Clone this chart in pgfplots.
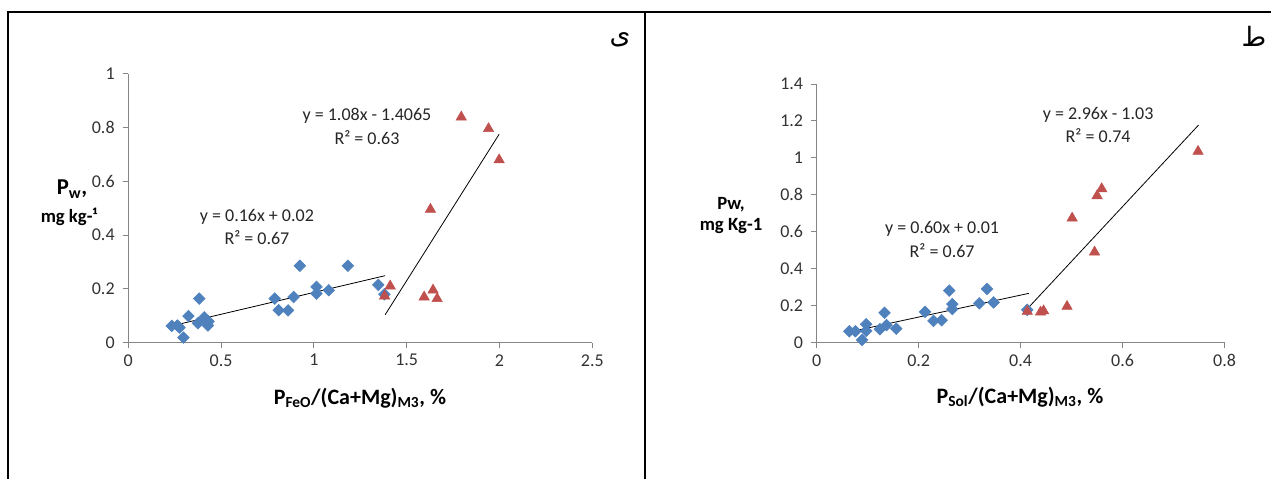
\documentclass[border=0pt]{standalone}
\usepackage{fontspec}
\setmainfont{Carlito}
\newfontfamily\arabicfont[Script=Arabic]{DejaVu Sans}
\TeXXeTstate=1
\usepackage{pgfplots}
\pgfplotsset{compat=1.18}
\definecolor{xlblue}{HTML}{4F81BD}
\definecolor{xlred}{HTML}{C0504D}
\definecolor{axgray}{HTML}{868686}
\definecolor{ticktxt}{HTML}{333333}
\tikzset{eqn/.style={font=\fontsize{13.5}{17.5}\selectfont, align=center, text=black!85}}
\pgfplotsset{xlstyle/.style={
  scale only axis, anchor=south west,
  axis x line=bottom, axis y line=left,
  axis line style={-, draw=axgray, line width=0.75pt},
  tick align=outside, major tick length=4.2pt,
  tick style={draw=axgray, line width=0.75pt},
  tick label style={font=\fontsize{13.5}{15}\selectfont, text=ticktxt},
  yticklabel style={xshift=-2.5pt},
  xticklabel style={yshift=-1pt},
  /pgf/number format/assume math mode=true,
  clip=false,
}}
\pgfplotsset{
  bluepts/.style={only marks, mark=square*, mark size=3.1pt, color=xlblue, every mark/.append style={rotate=45}},
  redpts/.style={only marks, mark=triangle*, mark size=4.5pt, color=xlred, every mark/.append style={yshift=-1.1pt}},
  trend/.style={black, line width=0.6pt, no marks},
}
\begin{document}
\begin{tikzpicture}
\path[use as bounding box] (0,0) rectangle (953.25pt,359.25pt);
% ---------- left panel ----------
\begin{axis}[xlstyle, at={(96.225pt,102.225pt)}, width=348pt, height=201.75pt,
  xmin=0, xmax=2.5, ymin=0, ymax=1,
  xtick={0,0.5,1,1.5,2,2.5}, xticklabels={0,0.5,1,1.5,2,2.5},
  ytick={0,0.2,0.4,0.6,0.8,1}, yticklabels={0,0.2,0.4,0.6,0.8,1}]
\addplot[bluepts] coordinates {
(0.234,0.0625) (0.265,0.064) (0.276,0.056) (0.297,0.019) (0.324,0.099)
(0.382,0.164) (0.375,0.0725) (0.409,0.094) (0.432,0.079) (0.429,0.064)
(0.789,0.164) (0.810,0.121) (0.861,0.120) (0.891,0.170) (0.924,0.286)
(1.014,0.2075) (1.014,0.1825) (1.080,0.195) (1.183,0.286) (1.347,0.215)
(1.380,0.180)};
\addplot[redpts] coordinates {
(1.794,0.844) (1.941,0.801) (1.998,0.685) (1.628,0.501) (1.411,0.216)
(1.381,0.179) (1.594,0.175) (1.642,0.201) (1.664,0.169)};
\addplot[trend] coordinates {(0.237,0.063) (1.383,0.249)};
\addplot[trend] coordinates {(1.384,0.104) (1.998,0.775)};
\node[eqn] at (axis cs:1.286,0.804) {y = 1.08x - 1.4065\\R² = 0.63};
\node[eqn] at (axis cs:0.693,0.430) {y = 0.16x + 0.02\\R² = 0.67};
\end{axis}
% ---------- right panel ----------
\begin{axis}[xlstyle, at={(612.525pt,102.225pt)}, width=305.9pt, height=194pt,
  xmin=0, xmax=0.8, ymin=0, ymax=1.4,
  xtick={0,0.2,0.4,0.6,0.8}, xticklabels={0,0.2,0.4,0.6,0.8},
  ytick={0,0.2,0.4,0.6,0.8,1,1.2,1.4}, yticklabels={0,0.2,0.4,0.6,0.8,1,1.2,1.4}]
\addplot[bluepts] coordinates {
(0.064,0.062) (0.076,0.062) (0.089,0.015) (0.097,0.100) (0.097,0.064)
(0.124,0.073) (0.133,0.162) (0.137,0.095) (0.156,0.076) (0.2125,0.167)
(0.229,0.118) (0.245,0.122) (0.260,0.282) (0.266,0.209) (0.266,0.182)
(0.319,0.213) (0.334,0.291) (0.347,0.218) (0.413,0.178)};
\addplot[redpts] coordinates {
(0.748,1.043) (0.559,0.841) (0.550,0.803) (0.501,0.682) (0.545,0.498)
(0.491,0.204) (0.413,0.177) (0.439,0.173) (0.445,0.180)};
\addplot[trend] coordinates {(0.064,0.058) (0.416,0.267)};
\addplot[trend] coordinates {(0.414,0.186) (0.749,1.178)};
\node[eqn] at (axis cs:0.552,1.178) {y = 2.96x - 1.03\\R² = 0.74};
\node[eqn] at (axis cs:0.246,0.558) {y = 0.60x + 0.01\\R² = 0.67};
\end{axis}
% ---------- frame, labels (pixel coordinates) ----------
\begin{scope}[x=0.75pt, y=-0.75pt, yshift=359.25pt]
\draw[line width=1.5pt] (7,12) -- (1271,12);
\draw[line width=1.5pt] (8,11.3) -- (8,479);
\draw[line width=1.5pt] (645,11.3) -- (645,479);
\node[font=\fontsize{16.5}{18}\selectfont\bfseries] at (360,398) {P\textsubscript{FeO}/(Ca+Mg)\textsubscript{M3}, \%};
\node[font=\fontsize{16.5}{18}\selectfont\bfseries] at (1020,397) {P\textsubscript{Sol}/(Ca+Mg)\textsubscript{M3}, \%};
\node[font=\fontsize{17}{19}\selectfont\bfseries] at (72,189) {P\textsubscript{w},};
\node[font=\fontsize{14}{16}\selectfont\bfseries] at (69,217) {mg kg-¹};
\node[font=\fontsize{14}{16}\selectfont\bfseries] at (731,205) {Pw,};
\node[font=\fontsize{14}{16}\selectfont\bfseries] at (731,226) {mg Kg-1};
\node[font=\fontsize{20}{22}\selectfont] at (620,40) {\arabicfont\beginR ی\endR};
\node[font=\fontsize{20}{22}\selectfont] at (1254,36) {\arabicfont\beginR ط\endR};
\end{scope}
\end{tikzpicture}
\end{document}
